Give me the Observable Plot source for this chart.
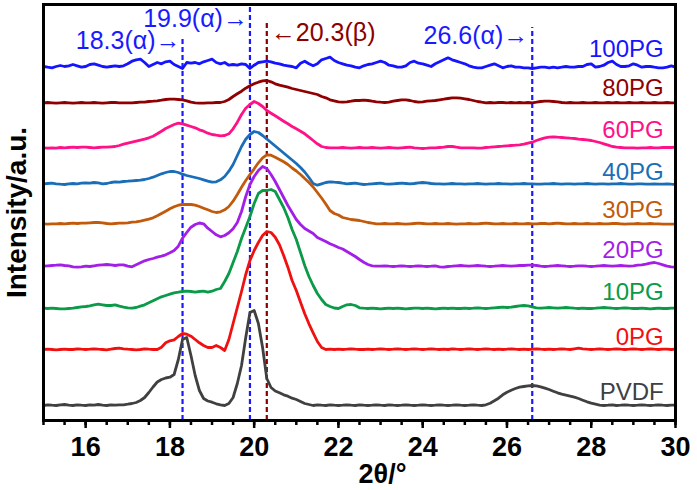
<!DOCTYPE html>
<html>
<head>
<meta charset="utf-8">
<script src="https://cdn.jsdelivr.net/npm/d3@7"></script>
<script src="https://cdn.jsdelivr.net/npm/@observablehq/plot@0.6"></script>
<style>
  body { margin: 0; background: #fff; }
</style>
</head>
<body>
<div id="chart"></div>
<script>
// XRD patterns, 2θ sampled every 0.1° from 15° to 30°
const twoTheta = d3.range(151).map(i => Math.round((15 + i * 0.1) * 10) / 10);

const sampleNames = ["100PG", "80PG", "60PG", "40PG", "30PG", "20PG", "10PG", "0PG", "PVDF"];
// vertical offset of each pattern in the stacked plot (a.u.)
const stackOffsets = [352, 317, 272, 236, 196, 154, 112, 71, 15];

const pg100 = [2,1.3,0.7,2,3,2,2.7,4,2.7,1.3,
 2,4,4.7,3.3,2,1.3,2,2.7,2,2.7,
 4.7,7.3,8.7,9.3,6,2,4,6,4.7,6.7,
 7.3,4,2,0,6,5.3,6,4.7,6.7,8,
 9.3,6,4.7,6,3.3,4,3.3,4.7,4,0,
 3.3,6,6.7,7.3,6.7,5.3,4.7,3.3,2.7,2,
 0.7,5.3,7.3,4.7,2.7,4.7,8.7,10,11.3,8,
 6,4.7,3.3,2.7,1.3,0.7,2.7,4,4.7,6,
 7.3,6,3.3,2.7,1.3,1.3,2.7,6,7.3,5.3,
 4.7,3.3,2,4.7,6.7,8.7,10.7,8.7,7.3,6,
 4.7,2.7,1.3,0.7,0.7,2,3.3,4.7,2.7,0.7,
 2,2.7,1.3,1.3,0.7,0.7,0,0.7,1.3,1.3,
 0.7,1.3,0.7,1.3,2,1.3,1.3,2,2,4,
 4.7,1.3,2,3.3,6,7.3,4,2,2,2.7,
 4.7,3.3,1.3,2,2,1.3,0.7,0.7,1.3,2.7,
 1.3];

const pg80 = [0.7,1,0.7,0.3,0.7,1,0.7,0.3,0.7,1,
 0.7,0.7,1,0.7,0.3,0.7,1,1,0.7,0.7,
 0.7,0.7,1,1.3,1.3,2,2.3,2.7,3.3,4,
 4.3,4.3,4,3.7,2.7,1.3,0.7,0.3,0.3,0.7,
 0.7,1,1,2,4,7,9.7,12.3,15.3,17.7,
 19.7,21.3,22.7,23,21.7,19.7,18.3,17.3,16.3,15,
 14,13,12,11,10,9,7,5.7,3.7,2.7,
 1.7,1.3,1.7,2.3,3,3,3.3,3,2.3,1.7,
 1.3,1,1.3,2.3,3,3.7,3.7,3,2,1.3,
 1.7,2.3,2.7,3,3.7,4.3,5,5.7,5.7,5.3,
 4.7,4,3,2,1.3,0.7,1,0.7,1,1,
 0.7,1,0.7,1,0.7,1,0.7,1.3,2,2.3,
 2.3,2,1.7,1,0.7,1,0.7,0.7,1,0.7,
 0.7,1,0.7,0.7,1,0.7,1,0.7,0.7,1,
 0.7,0.7,1,0.7,0.7,1,0.7,0.7,1,0.7,
 0.7];

const pg60 = [0.7,0.3,0.7,0.3,1,0.7,1,1.3,1,1.3,
 1.3,1,0.7,1,1.3,1.3,1.7,2,3,4.3,
 5.3,6.3,7.3,8.3,9.3,10.7,12.3,14.7,17.3,20,
 22,24,25.3,24.7,23.3,22,20.7,18.7,17.3,15.3,
 14,13.3,12.7,13,14.7,19.7,26.3,34,40.3,44,
 47,45,42,38,35.3,32.7,30,27.3,24.7,22,
 19.7,17.3,14.7,11.3,8,4.7,2,1,0.7,0.7,
 0.7,1,0.7,0.3,0.7,1,0.7,0.7,1,0.7,
 0.3,0.7,1,0.7,0.3,0.7,1,1.3,0.7,0.3,
 0,0.3,0.7,0.7,1,1.3,2,2,1.3,0.7,
 0.7,0.7,0.7,0.3,0.3,1,1.3,1.7,2,2.3,
 2.7,3,3.3,3.7,4.3,5.3,6.3,8,9.3,10.7,
 11.3,11.7,11.3,11,10.7,10.3,10,9.3,9,8.7,
 8,7,6,4.7,3.3,2,1.3,1,0.7,0.7,
 0.7,0.3,0.7,0.7,1,0.7,0.7,1,1,1,
 1.3];

const pg40 = [0.7,1,1.3,0.7,0.3,0,0.7,1,0.7,1.3,
 1.7,1.3,2,1.7,0.7,1,2,2.7,2.3,3,
 3.3,3.7,4,4.3,5,6,7.3,9,10.7,12,
 13,13,12,10.3,9,8,7,6,4.7,3.3,
 2.3,2.7,4.7,8,13.3,20,29,38,45.3,50,
 53,52,49,45.5,42,38.5,35,31.5,28,24.5,
 21,17,12.5,7,1,-0.7,0.7,2,2.7,2.3,
 2,1.3,0.7,1,1.3,0.7,0,0.3,0.7,1,
 1.3,0.7,0.3,0.7,1,1.3,1,0.7,1,1.7,
 2,1.7,1,0.7,0.7,0.3,0.7,1,0.7,0.7,
 0.3,0.7,0.7,1,0.7,0.3,0.7,0.7,1,0.7,
 0.7,0.3,0.7,0.7,1,0.7,0.7,0.3,0.3,0.7,
 0.7,1,0.7,0.3,0.7,0.7,0.3,0.7,0.7,1,
 0.7,0.3,0.7,0.7,0.3,0.7,0.7,1,0.7,0.3,
 0.3,0.7,0.7,0.3,0.3,0.7,0.3,0.3,0.7,0.3,
 0];

const pg30 = [0.7,0.3,0.7,0.7,1,0.7,1,1.3,1,1.3,
 1.3,1.7,2,2,1.7,1,0.7,1,1.3,1.3,
 1.7,2.3,2.7,3.3,4.3,5.3,6.7,8.7,11,13.3,
 15.7,17.7,19.3,20,20,20,19.3,18,16.3,14.7,
 13,12,12.7,14.7,18,23.3,30,37.3,44,50,
 55.7,61.7,66.7,69.7,69.3,67.3,65,62.7,60,56.5,
 53.5,50,46,42,37.5,32,26.5,20.5,14,11,
 9.5,7,6,5,4.5,4,3,2,1.3,0.7,
 0.7,1,0.7,0.7,1,0.7,0.3,0.7,1,1.3,
 1,0.7,0.7,1,0.7,0.7,1,0.7,0.3,0.7,
 0.7,1,0.7,0.7,1,1.3,1,0.7,0.7,1,
 0.7,0.7,1,0.7,0.7,1,0.7,0.7,1,1,
 0.7,1,1.3,1,0.7,0.7,1,0.7,0.7,1,
 0.7,0.7,1,0.7,0.7,1,1,0.7,0.3,0.7,
 0.7,1,0.7,0.7,1,0.7,0.7,0.3,0.3,0.3,
 0.3];

const pg20 = [0.3,0.7,1,1.3,1.7,1,0.7,-0.3,-0.7,-0.3,
 0.3,0,0.7,1.3,1.7,2,1.7,1,1.7,1.7,
 0.3,-0.3,1.7,3.7,5.7,7,8,9.3,10.3,11.7,
 13.7,16,20.3,28.3,34,39.3,42,43.5,42.7,38.3,
 35,31.7,29.7,31,33.7,37.7,44,55,70,82,
 90,96,100,98,92,85,77,69,61,54,
 47,42,38,35.5,33,29,27,25,22.7,21,
 19,17.5,15,12.5,10,7,4.3,2,0.7,0.3,
 0.3,0.7,0.3,0,0.3,0.7,0.3,0,0.3,0.7,
 0.3,0,0.3,0.7,-0.3,-0.7,0,0.3,0.7,1,
 0.7,0.3,0.7,1,0.7,0.3,0,0.3,0.7,1,
 0.7,0.3,0.7,1,1,1.3,1.3,1,0.3,0,
 0.3,0.7,1,0.7,0.3,0,0.3,0.7,0.7,0.3,
 0,0.3,0.7,1,0.7,0.3,0.7,1,0.7,0.3,
 0.7,1.3,1.7,2.3,3.3,4,3,1.7,0.3,-0.3,
 -0.7];

const pg10 = [0.3,0,0.3,0,-0.3,-0.3,0,0.3,1,1.7,
 2,2.7,3.7,4.3,3.7,3,3,3.7,2.3,1.3,
 0.7,0.3,1,2.3,3.7,5.7,7.7,9.7,11.7,13,
 14.3,15.7,16.3,17,17.3,17,16.3,17,17.3,16.3,
 17.3,19,20,27,35,46,57,70,81,92,
 105,115,118,118,119,117,109,101,91,79,
 69,56,43,32,23,15,9,4,2,0.5,
 0,2,3.7,4,3,0.7,0.3,0,0.3,0,
 -0.3,0,0.3,0,0.3,0,-0.3,0,0.3,0.3,
 0,0.3,0,-0.3,0,0.3,0,0.3,0,0,
 0.3,0,0.3,0.7,0.3,0,0.3,0.7,1,1.3,
 1,1.3,2,2.7,3,2.7,1.7,0.7,0.3,0.7,
 1,0.7,0.3,0.7,1,0.7,0.3,0,0.3,0,
 0,0.3,0.7,1,0.7,0.3,0,0.3,0.7,0.3,
 0,0,0.3,0,-0.3,0,0.3,0,0,0.3,
 0.3];

const pg0 = [0,0.3,0,-0.3,0,0.3,0,0,0.7,0.3,
 0,0.3,0.7,0.3,0,-0.3,0.3,1,1.3,0.7,
 0.3,0,-0.3,0,0.7,0.3,0,0,2.3,6.7,
 8.7,9.7,13,16,15.3,13.3,10,6.7,4,2,
 2,4,2,-1,10,26,42,58,75,89,
 99,107,114,118,117,112.3,104.7,94,82.3,69,
 59,47.3,35.7,25.7,16.7,8,2,0,0.3,0,
 0.3,0,0.3,0.7,0.3,0,0,0.3,0,0.3,
 0.7,0.3,0,0.3,0.7,0.3,0,0.3,0.7,0.3,
 0,0.3,0.7,0.3,0,0.3,0,0.7,0.3,0,
 0.3,0.7,0.3,0,0.3,0.7,0.3,0,0.3,0,
 0.3,0.7,0.3,0,0.3,0,0.3,0.7,0.3,0,
 0.3,0,0.3,0.7,0.3,0,0.7,1.3,0.7,0.3,
 0,0.3,0.7,0.3,0,0.3,0.7,0.3,0,0.3,
 0.7,0.3,0,0.3,0.7,0.3,0,0.3,0.3,0,
 0.3];

const pvdf = [0,0.7,0.3,0,0.7,1,0.3,0,0.7,0.3,
 0,0.7,0.3,1,0.3,0,0.7,0.3,0.7,0.7,
 1.3,2,3,5,8,13,18.5,23.5,26,27.5,
 28.3,31,46,66,68,50,30,15,7,4.5,
 3.3,1.7,0.7,0,2,8,22,40,68,93,
 95,82,58,27,18,14.5,12.7,10.7,9.3,7.3,
 6,4,2,1,0,0.7,0.3,0,0.7,0.3,
 0,0.3,0.7,0.3,0,0.7,0.3,0,0.3,0.7,
 0.3,0,0.7,0.3,0,0.3,0.7,0.3,0,0.3,
 0.7,0.3,0,0.3,0.7,0.3,0,0.3,0.7,0.3,
 0,0.3,0.7,0.3,0,0.7,2.3,4.7,7.3,10.7,
 13.3,15.3,17,18.3,19,19.7,20,19.7,18.7,17.3,
 16,14.3,12.7,11.3,10.3,9.3,8.3,7,5.3,3.7,
 2.3,1.3,0.3,0,0.3,0.7,0,0.3,0.7,0.3,
 0,0.3,0.7,0.3,0,0.3,0.7,0.3,0,0.3,
 0.3];

const intensities = [pg100, pg80, pg60, pg40, pg30, pg20, pg10, pg0, pvdf];

// reference reflections of the PVDF phases
const peakAngles = [18.3, 19.9, 20.3, 26.6];
const peakLabels = ["18.3(α)→", "19.9(α)→", "←20.3(β)", "26.6(α)→"];
const peakPhases = ["alpha", "alpha", "beta", "alpha"];

// ---- styling / layout ----
const lineColors = ["#1414ff", "#900000", "#ff1188", "#1a6eb8", "#c25a0c", "#a31fe8", "#0a9a48", "#f01010", "#404040"];
const phaseColor = {alpha: "#1a1aff", beta: "#8b0000"};
const labelLift = [19, 15, 18, 12, 14, 16, 16, 12, 13];
const peakRuleTop = [381, 415, 397, 393];
const peakTextY = [380, 402, 387.5, 385];
const peakTextDx = [-2, -2, 4, -4];
const font = "Arial, 'Liberation Sans', sans-serif";

const rows = [];
sampleNames.forEach((name, k) => {
  intensities[k].forEach((v, i) => {
    rows.push({sample: name, angle: twoTheta[i], value: stackOffsets[k] + v});
  });
});

const peaks = peakAngles.map((a, i) => ({
  angle: a, label: peakLabels[i], color: phaseColor[peakPhases[i]],
  top: peakRuleTop[i], ty: peakTextY[i], dx: peakTextDx[i]
}));

const sampleLabels = sampleNames.map((name, k) => ({
  name, color: lineColors[k], y: stackOffsets[k] + labelLift[k]
}));

const marks = [];

// dashed reference lines
peaks.forEach(p => {
  marks.push(Plot.ruleX([p], {x: "angle", y1: 0, y2: "top", stroke: p.color, strokeWidth: 2.2, strokeDasharray: "5,3"}));
});

// stacked patterns
sampleNames.forEach((name, k) => {
  marks.push(Plot.line(rows.filter(d => d.sample === name), {
    x: "angle", y: "value", stroke: lineColors[k], strokeWidth: 2.8, strokeLinejoin: "round"
  }));
});

// peak annotations
peaks.forEach(p => {
  marks.push(Plot.text([p], {
    x: "angle", y: "ty", text: "label", fill: p.color, fontSize: 25,
    textAnchor: p.dx > 0 ? "start" : "end", dx: p.dx, lineAnchor: "middle"
  }));
});

// sample names
sampleLabels.forEach(s => {
  marks.push(Plot.text([s], {
    x: 29.72, y: "y", text: "name", fill: s.color, fontSize: 24,
    textAnchor: "end", lineAnchor: "middle"
  }));
});

// axes
marks.push(Plot.axisX({
  ticks: d3.range(15, 30.01, 0.5), tickSize: 5, tickFormat: () => "", label: null, strokeWidth: 2.5
}));
marks.push(Plot.axisX({
  ticks: d3.range(16, 31, 2), tickSize: 8, tickPadding: 8, tickFormat: d => d,
  fontSize: 27, fontWeight: "bold", label: null, strokeWidth: 2.5, fill: "#000"
}));
marks.push(Plot.frame({stroke: "#000", strokeWidth: 3}));

// axis titles
marks.push(Plot.text(["2θ/°"], {
  frameAnchor: "bottom", textAnchor: "middle", dx: 23, dy: 54, lineAnchor: "middle",
  fontSize: 27, fontWeight: "bold", fill: "#000"
}));
marks.push(Plot.text(["Intensity/a.u."], {
  frameAnchor: "left", textAnchor: "middle", dx: -26, rotate: -90, lineAnchor: "middle",
  fontSize: 28, fontWeight: "bold", fill: "#000"
}));

const chart = Plot.plot({
  width: 697,
  height: 490,
  marginLeft: 43,
  marginRight: 22,
  marginTop: 4,
  marginBottom: 70,
  style: {fontFamily: font, background: "#fff", overflow: "visible"},
  x: {domain: [15, 30], axis: null},
  y: {domain: [0, 416], axis: null},
  marks
});

document.getElementById("chart").appendChild(chart);
</script>
</body>
</html>
